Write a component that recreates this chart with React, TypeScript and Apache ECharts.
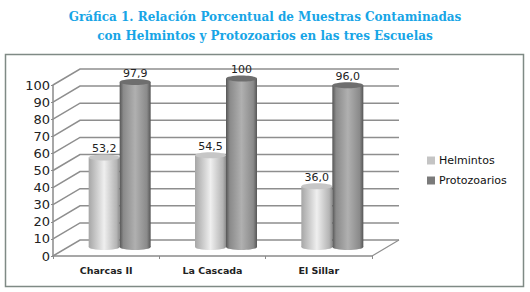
import React, { useEffect, useRef } from "react";
import * as echarts from "echarts";

const categories = ["Charcas II", "La Cascada", "El Sillar"];
const helmintos = [53.2, 54.5, 36.0];
const protozoarios = [97.9, 100, 96.0];
const helmintosLabels = ["53,2", "54,5", "36,0"];
const protozoariosLabels = ["97,9", "100", "96,0"];
const yTicks = [0, 10, 20, 30, 40, 50, 60, 70, 80, 90, 100];
const titleText = "Gráfica 1. Relación Porcentual de Muestras Contaminadas\ncon Helmintos y Protozoarios en las tres Escuelas";

const BACK_X = 27;
const BACK_Y = 16;
const MID_X = 13;
const MID_Y = 9;
const BAR_W = 31;
const RY = 3;
const FORESHORTEN = 0.985;
const GRID = "#8e8e8e";

function wallItem(params: any, api: any) {
  const v = api.value(0);
  const cs = params.coordSys;
  const y = api.coord([0, v])[1];
  const x0 = cs.x;
  const x1 = cs.x + cs.width;
  const shapes: any[] = [
    {
      type: "polyline",
      shape: { points: [[x0, y], [x0 + BACK_X, y - BACK_Y], [x1 + BACK_X, y - BACK_Y]] },
      style: { stroke: GRID, lineWidth: 1.5, fill: "none" },
    },
  ];
  if (v === 0) {
    shapes.push({
      type: "line",
      shape: { x1, y1: y, x2: x1 + BACK_X, y2: y - BACK_Y },
      style: { stroke: GRID, lineWidth: 1.2 },
    });
  }
  return { type: "group", children: shapes };
}

function cylinderItem(stops: [number, string][], topColor: string, labels: string[], shift: number) {
  return (params: any, api: any) => {
    const i = api.value(0);
    const top = api.coord([i, api.value(1)]);
    const base = api.coord([i, 0]);
    const cx = top[0] + MID_X + shift;
    const yBase = base[1] - MID_Y;
    const yTop = yBase - (base[1] - top[1]) * FORESHORTEN;
    const rx = BAR_W / 2;
    const fill = new echarts.graphic.LinearGradient(
      0,
      0,
      1,
      0,
      stops.map(([offset, color]) => ({ offset, color }))
    );
    return {
      type: "group",
      children: [
        { type: "ellipse", shape: { cx, cy: yBase, rx, ry: RY }, style: { fill } },
        { type: "rect", shape: { x: cx - rx, y: yTop, width: BAR_W, height: yBase - yTop }, style: { fill } },
        { type: "ellipse", shape: { cx, cy: yTop, rx, ry: RY }, style: { fill: topColor } },
        {
          type: "text",
          x: cx,
          y: yTop - 9,
          style: {
            text: labels[i],
            fill: "#222222",
            font: "11px 'DejaVu Sans'",
            align: "center",
            verticalAlign: "middle",
          },
        },
      ],
    };
  };
}

export default function App() {
  const ref = useRef<HTMLDivElement>(null);
  useEffect(() => {
    const chart = echarts.init(ref.current!, undefined, { renderer: "svg", width: 530, height: 292 });
    chart.setOption({
      animation: false,
      backgroundColor: "#ffffff",
      title: {
        text: titleText,
        left: 260,
        top: 2,
        textAlign: "center",
        textStyle: {
          color: "#17a5e6",
          fontFamily: "'DejaVu Serif'",
          fontWeight: "bold",
          fontSize: 12,
          lineHeight: 19,
        },
      },
      legend: {
        orient: "vertical",
        left: 427,
        top: 155,
        padding: 0,
        itemWidth: 8,
        itemHeight: 8,
        itemGap: 9,
        icon: "rect",
        data: ["Helmintos", "Protozoarios"],
        textStyle: { color: "#111111", fontFamily: "'DejaVu Sans'", fontSize: 11, padding: [0, 0, 0, -1] },
      },
      graphic: [
        {
          type: "rect",
          z: -1,
          shape: { x: 5.5, y: 54.5, width: 518, height: 232 },
          style: { fill: "none", stroke: "#7f8a85", lineWidth: 1.5 },
        },
      ],
      grid: { left: 53, top: 85, width: 319, height: 171 },
      xAxis: {
        type: "category",
        data: categories,
        axisLine: { lineStyle: { color: "#8a8a8a", width: 1.5 } },
        axisTick: { show: true, length: 3, lineStyle: { color: "#8a8a8a" } },
        axisLabel: {
          color: "#222222",
          fontFamily: "'DejaVu Sans'",
          fontWeight: "bold",
          fontSize: 9.5,
          margin: 9,
        },
      },
      yAxis: {
        type: "value",
        min: 0,
        max: 100,
        interval: 10,
        splitLine: { show: false },
        axisLine: { show: true, lineStyle: { color: "#8a8a8a", width: 1.5 } },
        axisTick: { show: true, length: 2, lineStyle: { color: "#8a8a8a" } },
        axisLabel: { color: "#222222", fontFamily: "'DejaVu Sans'", fontSize: 13, margin: 3 },
      },
      series: [
        {
          name: "walls",
          type: "custom",
          silent: true,
          z: 1,
          encode: { y: 0 },
          data: yTicks.map((t) => [t]),
          renderItem: wallItem,
        },
        {
          name: "Helmintos",
          type: "custom",
          z: 2,
          itemStyle: { color: "#c4c4c4" },
          encode: { x: 0, y: 1 },
          data: helmintos.map((v, i) => [i, v]),
          renderItem: cylinderItem(
            [[0, "#a6a6a6"], [0.5, "#efefef"], [0.9, "#b4b4b4"], [1, "#8c8c8c"]],
            "#c6c6c6",
            helmintosLabels,
            -15
          ),
        },
        {
          name: "Protozoarios",
          type: "custom",
          z: 3,
          itemStyle: { color: "#7a7a7a" },
          encode: { x: 0, y: 1 },
          data: protozoarios.map((v, i) => [i, v]),
          renderItem: cylinderItem(
            [[0, "#565656"], [0.12, "#8a8a8a"], [0.5, "#b0b0b0"], [0.88, "#8a8a8a"], [1, "#565656"]],
            "#6e6e6e",
            protozoariosLabels,
            16
          ),
        },
      ],
    });
    return () => chart.dispose();
  }, []);
  return <div ref={ref} style={{ position: "fixed", left: 0, top: 0, width: 530, height: 292 }} />;
}
